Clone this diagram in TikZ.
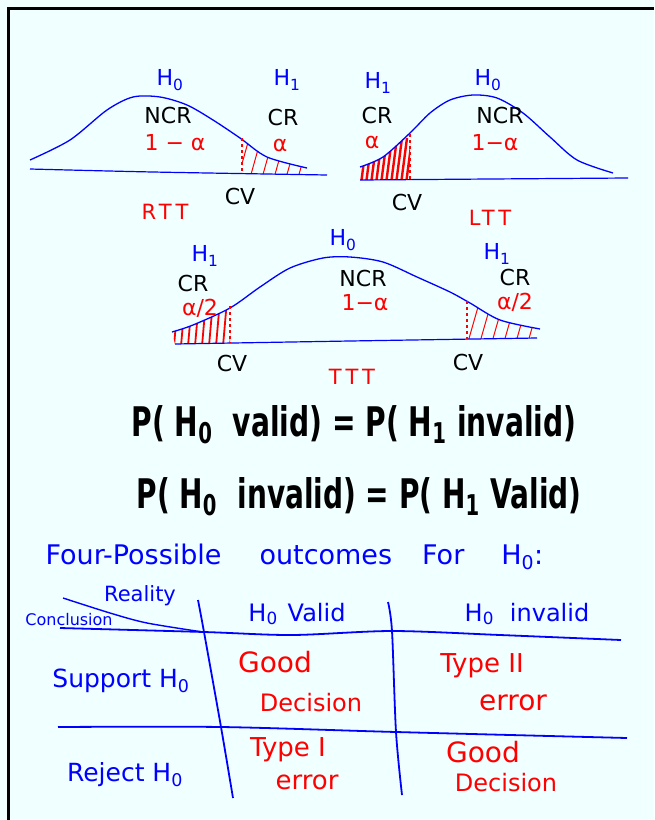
\documentclass[tikz,border=0pt]{standalone}
\usepackage{fontspec}
\usepackage{graphicx}
\setmainfont{DejaVu Sans}

\definecolor{paper}{RGB}{240,255,255}
\definecolor{inkblue}{RGB}{0,0,255}
\definecolor{inkred}{RGB}{255,0,0}

\newcommand{\Hzero}{H\textsubscript{0}}
\newcommand{\Hone}{H\textsubscript{1}}
\newcommand{\bigeq}[1]{\resizebox{445pt}{31pt}{\bfseries #1}}

% the three bell curves
\def\rttbell{plot[smooth] coordinates {(30,160) (70,140) (107,110) (133,97) (160,97) (187,105) (213,120) (240,138) (267,157) (307,168)}}
\def\lttbell{plot[smooth] coordinates {(360,167) (383,157) (410,133) (430,113) (450,100) (473,95) (497,98) (523,113) (550,137) (577,160) (613,173)}}
\def\tttbell{plot[smooth] coordinates {(172,332) (193,325) (230,308) (260,287) (290,268) (323,258) (350,257) (383,262) (417,277) (450,292) (470,303) (500,320) (540,329)}}

\begin{document}
\begin{tikzpicture}[
  x=1pt, y=-1pt,
  hyp/.style={text=inkblue, font=\fontsize{22}{22}\selectfont},
  region/.style={text=black, font=\fontsize{22}{22}\selectfont},
  prob/.style={text=inkred, font=\fontsize{22}{22}\selectfont},
  tailname/.style={text=inkred, font=\fontsize{21}{21}\selectfont\addfontfeature{LetterSpace=20}},
  bell/.style={draw=inkblue, line width=1.3pt},
  axisline/.style={draw=inkblue, line width=1.2pt},
  cvline/.style={draw=inkred, dashed, line width=1.6pt},
  hatch/.style={draw=inkred, line width=1pt},
  gridline/.style={draw=inkblue, line width=1.8pt},
  rowhead/.style={text=inkblue, font=\fontsize{25}{25}\selectfont},
  cell/.style={text=inkred, font=\fontsize{26}{26}\selectfont},
]
  \useasboundingbox (0,0) rectangle (654,820);
  \fill[paper] (0,0) rectangle (654,820);
  \draw[line width=3pt] (8,820) -- (8,8) -- (654,8);

  % Right tailed test
  \begin{scope}
    \clip (242,90) rectangle (312,180);
    \clip \rttbell -- (308,175) -- (30,169) -- cycle;
    \foreach \x in {252,264,...,324}
      \draw[hatch] (\x-14,178) -- (\x,128);
  \end{scope}
  \draw[bell] \rttbell;
  \draw[axisline] plot[smooth] coordinates {(30,169) (153,172) (327,175)};
  \draw[cvline] (242,138) -- (242,173);
  \node[hyp] (rttHz) at (170,80) {\Hzero};
  \node[hyp] (rttHo) at (287,80) {\Hone};
  \node[region] (rttncr) at (168,115) {NCR};
  \node[region] (rttcr) at (283,117) {CR};
  \node[prob] (rttconf) at (175,143) {1 − α};
  \node[prob] (rttalpha) at (280,145) {α};
  \node[region] (rttcv) at (240,196) {CV};
  \node[tailname] (rtt) at (165,212) {RTT};

  % Left tailed test
  \begin{scope}
    \clip (355,120) rectangle (410,185);
    \clip \lttbell -- (613,178) -- (360,180) -- cycle;
    \foreach \x in {356,361,...,412}
      \draw[hatch, line width=2.4pt] (\x,184) -- (\x+6,138);
  \end{scope}
  \draw[bell] \lttbell;
  \draw[axisline] plot[smooth] coordinates {(360,180) (490,179) (628,178)};
  \draw[cvline] (410,134) -- (410,179);
  \node[hyp] (lttHo) at (378,83) {\Hone};
  \node[hyp] (lttHz) at (488,80) {\Hzero};
  \node[region] (lttcr) at (377,115) {CR};
  \node[region] (lttncr) at (500,115) {NCR};
  \node[prob] (lttalpha) at (372,142) {α};
  \node[prob] (lttconf) at (495,143) {1−α};
  \node[region] (lttcv) at (407,202) {CV};
  \node[tailname] (ltt) at (490,218) {LTT};

  % Two tailed test
  \begin{scope}
    \clip (170,290) rectangle (230,350);
    \clip \tttbell -- (537,338) -- (175,344) -- cycle;
    \foreach \x in {174,181,...,232}
      \draw[hatch, line width=1.8pt] (\x,346) -- (\x+4,300);
  \end{scope}
  \begin{scope}
    \clip (467,290) rectangle (545,350);
    \clip \tttbell -- (537,338) -- (175,344) -- cycle;
    \foreach \x in {480,492,...,552}
      \draw[hatch] (\x-12,342) -- (\x,300);
  \end{scope}
  \draw[bell] \tttbell;
  \draw[axisline] plot[smooth] coordinates {(175,344) (350,341) (537,338)};
  \draw[cvline] (230,306) -- (230,343);
  \draw[cvline] (467,301) -- (467,339);
  \node[hyp] (tttHz) at (343,240) {\Hzero};
  \node[hyp] (tttHoL) at (205,256) {\Hone};
  \node[region] (tttcrL) at (193,283) {CR};
  \node[prob] (tttalphaL) at (200,308) {α/2};
  \node[region] (tttncr) at (363,278) {NCR};
  \node[prob] (tttconf) at (365,303) {1−α};
  \node[hyp] (tttHoR) at (497,254) {\Hone};
  \node[region] (tttcrR) at (515,277) {CR};
  \node[prob] (tttalphaR) at (515,302) {α/2};
  \node[region] (tttcvL) at (232,363) {CV};
  \node[region] (tttcvR) at (468,362) {CV};
  \node[tailname] (ttt) at (352,377) {TTT};

  % Equalities
  \node (eqvalid) at (354,425) {\bigeq{P( \Hzero\ \ valid) = P( \Hone\ invalid)}};
  \node (eqinvalid) at (359,497) {\bigeq{P( \Hzero\ \ invalid) = P( \Hone\ Valid)}};

  % Outcome table
  \node[rowhead, font=\fontsize{27}{27}\selectfont, anchor=west] (title) at (42,557)
    {Four-Possible\hspace{38pt}outcomes\hspace{30pt}For\hspace{37pt}\Hzero:};
  \draw[gridline, line width=1.4pt] plot[smooth] coordinates {(63,598) (110,613) (147,623) (203,632)};
  \draw[gridline] plot[smooth] coordinates {(60,628) (204,632) (292,635) (392,631) (500,635) (621,640)};
  \draw[gridline] plot[smooth] coordinates {(58,727) (221,727) (396,732) (627,738)};
  \draw[gridline] plot[smooth] coordinates {(198,600) (204,632) (221,727) (233,798)};
  \draw[gridline] plot[smooth] coordinates {(388,602) (392,631) (396,732) (402,795)};
  \node[rowhead, font=\fontsize{21}{21}\selectfont] (reality) at (140,596) {Reality};
  \node[rowhead, font=\fontsize{16}{16}\selectfont] (conclusion) at (69,620) {Conclusion};
  \node[rowhead, font=\fontsize{24}{24}\selectfont] (colvalid) at (297,614) {\Hzero\hspace{10pt}Valid};
  \node[rowhead, font=\fontsize{24}{24}\selectfont] (colinvalid) at (527,614) {\Hzero\hspace{16pt}invalid};
  \node[rowhead] (rowsupport) at (121,681) {Support \Hzero};
  \node[rowhead] (rowreject) at (125,775) {Reject \Hzero};
  \node[cell, font=\fontsize{28}{28}\selectfont] (goodA) at (275,662) {Good};
  \node[cell, font=\fontsize{24}{24}\selectfont] (decisionA) at (311,703) {Decision};
  \node[cell] (typeII) at (482,666) {Type II};
  \node[cell, font=\fontsize{28}{28}\selectfont] (errorII) at (513,703) {error};
  \node[cell] (typeI) at (288,750) {Type I};
  \node[cell] (errorI) at (307,782) {error};
  \node[cell, font=\fontsize{28}{28}\selectfont] (goodB) at (483,752) {Good};
  \node[cell, font=\fontsize{24}{24}\selectfont] (decisionB) at (506,783) {Decision};
\end{tikzpicture}
\end{document}
